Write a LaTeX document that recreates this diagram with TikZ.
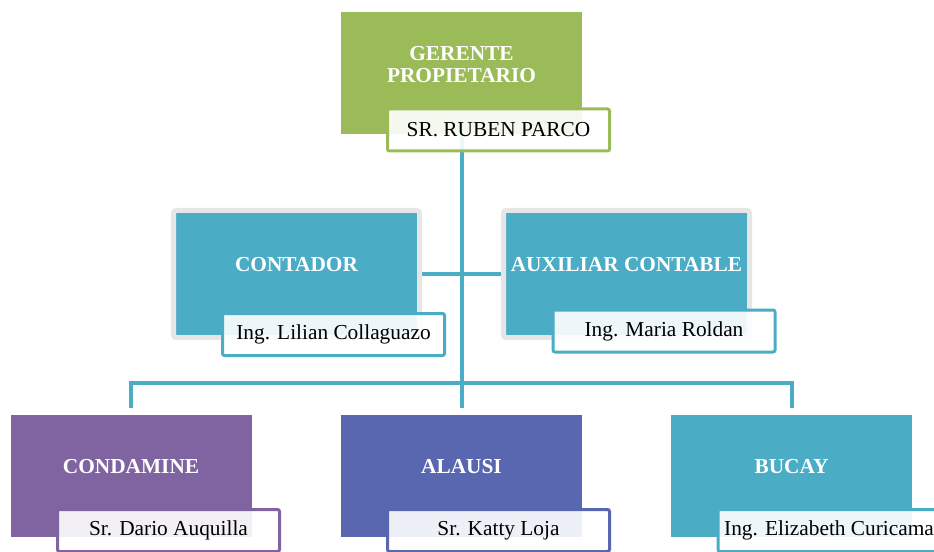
\documentclass[tikz,border=0pt]{standalone}
\usepackage{fontspec}
\setmainfont{Liberation Serif}
\usetikzlibrary{positioning, backgrounds}
\definecolor{ownergreen}{RGB}{155, 187, 89}
\definecolor{tealblue}{RGB}{75, 172, 198}
\definecolor{branchpurple}{RGB}{128, 100, 162}
\definecolor{branchindigo}{RGB}{89, 103, 177}
\definecolor{framegray}{RGB}{230, 230, 230}

\begin{document}
\begin{tikzpicture}[
    x=0.75pt, y=-0.75pt,
    unitbox/.style={rectangle, fill=#1, inner sep=0pt, minimum width=180.75pt, minimum height=91.5pt},
    framedbox/.style={unitbox=#1, draw=framegray, line width=3.75pt, rounded corners=2pt, minimum width=184.5pt, minimum height=95.25pt},
    headtxt/.style={text=white, font=\fontsize{16}{16.5}\selectfont\bfseries, align=center, yshift=7pt},
    namebox/.style={rectangle, draw=#1, line width=2.25pt, fill=white, fill opacity=0.9, text opacity=1, rounded corners=1.5pt, minimum width=166.5pt, minimum height=31.5pt, inner sep=0pt, font=\fontsize{16}{18}\selectfont},
    link/.style={draw=tealblue, line width=3pt}
]
    \useasboundingbox (0,0) rectangle (934,552);
    \clip (0,0) rectangle (934,552);

    % owner
    \node[unitbox=ownergreen, label={[headtxt]center:{GERENTE\\PROPIETARIO}}] (ger) at (461.5,73.5) {};
    \node[namebox=ownergreen] (gername) at (498.5,130) {SR. RUBEN PARCO};

    % accounting
    \node[framedbox=tealblue, label={[headtxt]center:CONTADOR}] (contador) at (296.5,274) {};
    \node[namebox=tealblue] (contadorname) at (333.5,334.5) {Ing. Lilian Collaguazo};
    \node[framedbox=tealblue, label={[headtxt]center:AUXILIAR CONTABLE}] (auxiliar) at (626.5,274) {};
    \node[namebox=tealblue] (auxiliarname) at (664,331) {Ing. Maria Roldan};

    % branches
    \node[unitbox=branchpurple, label={[headtxt]center:CONDAMINE}] (condamine) at (131,475.5) {};
    \node[namebox=branchpurple] (condaminename) at (168.5,530.5) {Sr. Dario Auquilla};
    \node[unitbox=branchindigo, label={[headtxt]center:ALAUSI}] (alausi) at (461.5,475.5) {};
    \node[namebox=branchindigo] (alausiname) at (498.5,530.5) {Sr. Katty Loja};
    \node[unitbox=tealblue, label={[headtxt]center:BUCAY}] (bucay) at (791.5,475.5) {};
    \node[namebox=tealblue] (bucayname) at (829,530.5) {Ing. Elizabeth Curicama};

    \coordinate (bus) at (461.5,383);

    \begin{scope}[on background layer]
        \draw[link, shorten >=4.5pt] (ger.south) -- (alausi.north);
        \draw[link] (contador.east) -- (auxiliar.west);
        \draw[link, shorten <=4.5pt, shorten >=4.5pt] (condamine.north) |- (bus) -| (bucay.north);
    \end{scope}
\end{tikzpicture}
\end{document}
